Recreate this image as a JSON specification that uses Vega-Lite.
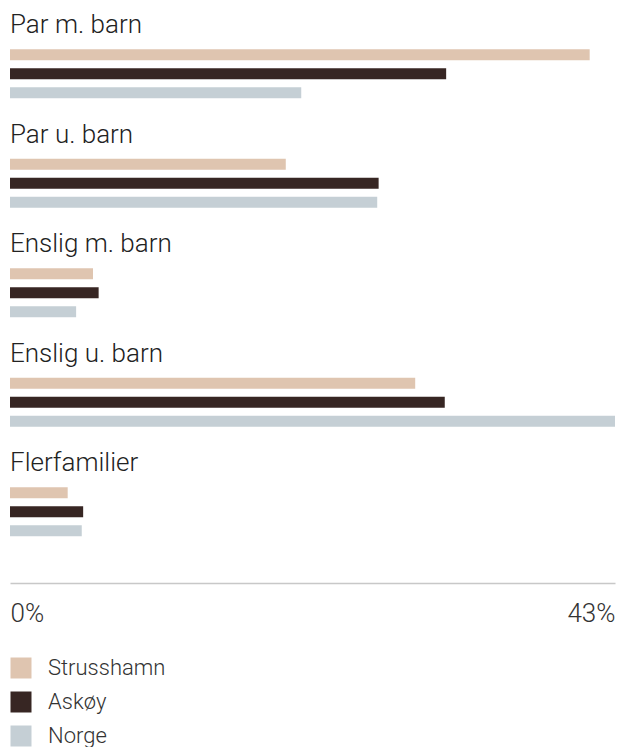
{
  "$schema": "https://vega.github.io/schema/vega-lite/v6.json",
  "width": 605,
  "height": 583,
  "autosize": "none",
  "padding": {"left": 10, "top": 0, "right": 7, "bottom": 164},
  "background": "white",
  "config": {
    "view": {"stroke": null},
    "font": "Roboto"
  },
  "data": {
    "values": [
      {"kategori": "Par m. barn", "serie": "Strusshamn", "andel": 41.2},
      {"kategori": "Par m. barn", "serie": "Askøy", "andel": 31.0},
      {"kategori": "Par m. barn", "serie": "Norge", "andel": 20.7},
      {"kategori": "Par u. barn", "serie": "Strusshamn", "andel": 19.6},
      {"kategori": "Par u. barn", "serie": "Askøy", "andel": 26.2},
      {"kategori": "Par u. barn", "serie": "Norge", "andel": 26.1},
      {"kategori": "Enslig m. barn", "serie": "Strusshamn", "andel": 5.9},
      {"kategori": "Enslig m. barn", "serie": "Askøy", "andel": 6.3},
      {"kategori": "Enslig m. barn", "serie": "Norge", "andel": 4.7},
      {"kategori": "Enslig u. barn", "serie": "Strusshamn", "andel": 28.8},
      {"kategori": "Enslig u. barn", "serie": "Askøy", "andel": 30.9},
      {"kategori": "Enslig u. barn", "serie": "Norge", "andel": 43.0},
      {"kategori": "Flerfamilier", "serie": "Strusshamn", "andel": 4.1},
      {"kategori": "Flerfamilier", "serie": "Askøy", "andel": 5.2},
      {"kategori": "Flerfamilier", "serie": "Norge", "andel": 5.1}
    ]
  },
  "layer": [
    {
      "mark": {"type": "bar", "cornerRadius": 0},
      "encoding": {
        "y": {
          "field": "kategori", "type": "nominal", "sort": null, "axis": null,
          "scale": {"paddingInner": 0, "paddingOuter": 0.162, "align": 0}
        },
        "yOffset": {
          "field": "serie", "type": "nominal",
          "scale": {"domain": ["Strusshamn", "Askøy", "Norge"], "range": [45.3, 102.3], "paddingInner": 0.42, "paddingOuter": 0.21}
        },
        "x": {
          "field": "andel", "type": "quantitative",
          "scale": {"domain": [0, 43], "nice": false, "zero": true},
          "axis": {
            "values": [0, 43],
            "labelExpr": "datum.value + '%'",
            "ticks": false,
            "grid": false,
            "domainColor": "#c8c8c8",
            "domainWidth": 1.5,
            "labelFlush": true,
            "labelFontSize": 26,
            "labelFont": "Roboto",
            "labelFontWeight": 300,
            "labelColor": "#333333",
            "labelPadding": 17,
            "title": null
          }
        },
        "color": {
          "field": "serie", "type": "nominal",
          "scale": {"domain": ["Strusshamn", "Askøy", "Norge"], "range": ["#dfc5b0", "#372623", "#c5cfd5"]},
          "legend": {
            "title": null,
            "orient": "none",
            "legendX": 0,
            "legendY": 657,
            "direction": "vertical",
            "symbolType": "square",
            "symbolSize": 441,
            "symbolStrokeWidth": 0,
            "symbolOpacity": 1,
            "labelFontSize": 22,
            "labelFont": "Roboto",
            "labelFontWeight": 300,
            "labelColor": "#333333",
            "labelOffset": 16,
            "rowPadding": 12
          }
        }
      }
    },
    {
      "transform": [{"filter": "datum.serie === 'Strusshamn'"}],
      "mark": {"type": "text", "align": "left", "baseline": "alphabetic", "dy": 33, "fontSize": 26, "fontWeight": 300, "font": "Roboto", "color": "#222222"},
      "encoding": {
        "y": {"field": "kategori", "type": "nominal", "sort": null, "bandPosition": 0},
        "x": {"datum": 0},
        "text": {"field": "kategori"}
      }
    }
  ]
}
